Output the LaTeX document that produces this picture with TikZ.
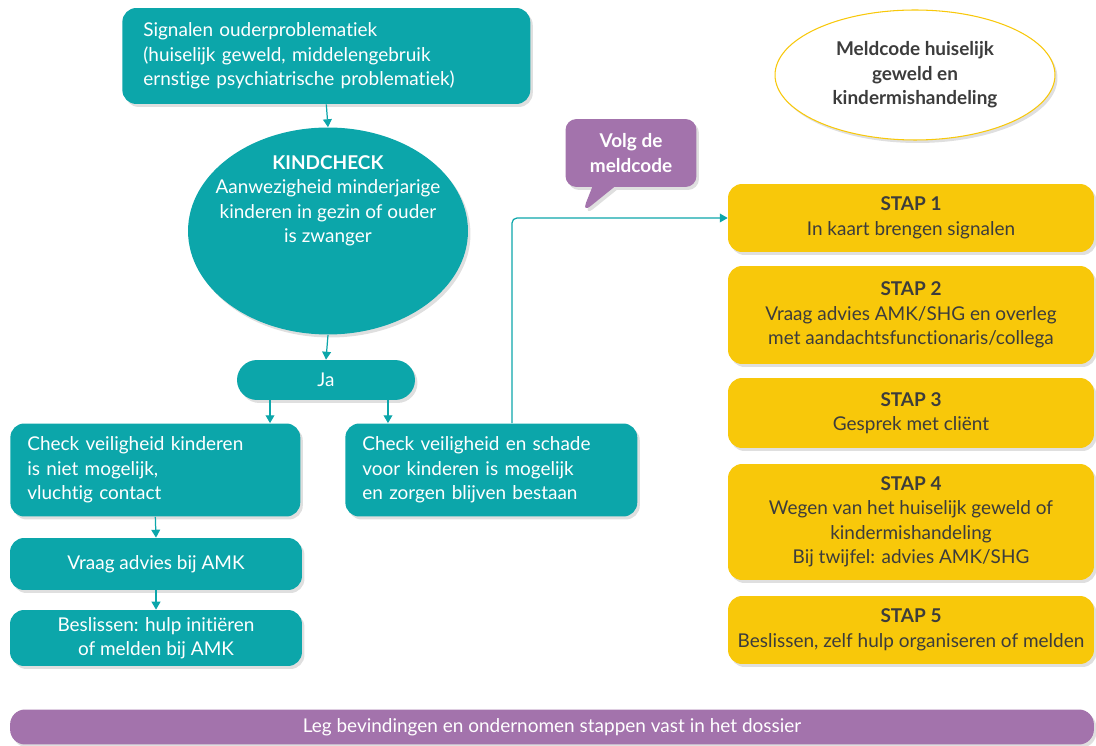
\documentclass[tikz,border=0pt]{standalone}
\usepackage{fontspec}
\setmainfont{Lato}[Ligatures=NoCommon]
\usetikzlibrary{arrows.meta,shapes.geometric,shapes.callouts,shadows}

\definecolor{kteal}{RGB}{12,166,170}
\definecolor{kpurple}{RGB}{163,115,172}
\definecolor{kyellow}{RGB}{248,200,10}
\definecolor{ktext}{RGB}{60,60,60}

\tikzset{
    box/.style={draw=none, rectangle, rounded corners=0.28cm, fill=kteal, text=white, align=center, drop shadow={opacity=0.25, shadow xshift=0.05cm, shadow yshift=-0.06cm}, font=\fontsize{10.8}{13.9}\selectfont},
    stap/.style={box, fill=kyellow, text=ktext, minimum width=7.32cm},
    arr/.style={draw=kteal, line width=0.7pt, -{Triangle[width=5pt,length=4.5pt]}}
}

\begin{document}
\begin{tikzpicture}[x=0.02cm, y=-0.02cm]
    \useasboundingbox (0,0) rectangle (1096,746);

    \draw

    %% linkerkolom
    (122,56)node[box, minimum width=8.16cm, minimum height=1.92cm, inner xsep=0.42cm, text width=7.32cm, align=left, anchor=180](s0){Signalen ouderproblematiek\\(huiselijk geweld, middelengebruik\\ernstige psychiatrische problematiek)}
    (328,231)node[box, ellipse, minimum width=5.6cm, minimum height=4.14cm, inner sep=0pt](k0){}
    (328,201)node[align=center, text=white, font=\fontsize{10.8}{13.9}\selectfont](k1){\textbf{KINDCHECK}\\Aanwezigheid minderjarige\\kinderen in gezin of ouder\\is zwanger}
    (326,380)node[box, minimum width=3.56cm, minimum height=0.8cm, rounded corners=0.4cm](j0){Ja}
    (10,470)node[box, minimum height=1.86cm, inner xsep=0.34cm, text width=5.12cm, align=left, anchor=180](c1){Check veiligheid kinderen\\is niet mogelijk,\\vluchtig contact}
    (345,470)node[box, minimum height=1.86cm, inner xsep=0.34cm, text width=5.16cm, align=left, anchor=180](c2){Check veiligheid en schade\\voor kinderen is mogelijk\\en zorgen blijven bestaan}
    (156,564)node[box, minimum width=5.84cm, minimum height=1.04cm](v1){Vraag advies bij AMK}
    (156,638)node[box, minimum width=5.84cm, minimum height=1.12cm](b1){Beslissen: hulp initiëren\\of melden bij AMK}

    %% meldcode
    (915,75)node[ellipse, draw=kyellow, line width=0.6pt, fill=white, minimum width=5.6cm, minimum height=2.6cm, align=center, text=ktext, drop shadow={opacity=0.25, shadow xshift=0.05cm, shadow yshift=-0.06cm}, font=\bfseries\fontsize{10.8}{13.9}\selectfont](m0){Meldcode huiselijk\\geweld en\\kindermishandeling}
    (631,153)node[rectangle callout, callout absolute pointer={(582,213)}, callout pointer width=0.44cm, fill=kpurple, rounded corners=0.22cm, minimum width=2.62cm, minimum height=1.36cm, align=center, text=white, drop shadow={opacity=0.25, shadow xshift=0.05cm, shadow yshift=-0.06cm}, font=\bfseries\fontsize{10.8}{13.9}\selectfont](v0){Volg de\\meldcode}

    %% stappen
    (911,218)node[stap, minimum height=1.36cm](st1){\textbf{STAP 1}\\In kaart brengen signalen}
    (911,315)node[stap, minimum height=1.96cm](st2){\textbf{STAP 2}\\Vraag advies AMK/SHG en overleg\\met aandachtsfunctionaris/collega}
    (911,413)node[stap, minimum height=1.4cm](st3){\textbf{STAP 3}\\Gesprek met cliënt}
    (911,522)node[stap, minimum height=2.32cm](st4){\textbf{STAP 4}\\Wegen van het huiselijk geweld of\\kindermishandeling\\Bij twijfel: advies AMK/SHG}
    (911,630)node[stap, minimum height=1.36cm](st5){\textbf{STAP 5}\\Beslissen, zelf hulp organiseren of melden}

    %% dossier
    (552,727)node[box, fill=kpurple, minimum width=21.68cm, minimum height=0.7cm, rounded corners=0.3cm](p0){Leg bevindingen en ondernomen stappen vast in het dossier}
    ;

    \coordinate (t0) at (512,218);

    \draw[arr] (s0.south) -- (k0.north);
    \draw[arr] (k0.south) -- (j0.north);
    \draw[arr] ([xshift=-1.12cm]j0.south) -- ([xshift=-1.12cm]j0.south |- c1.north);
    \draw[arr] ([xshift=1.24cm]j0.south) -- ([xshift=1.24cm]j0.south |- c2.north);
    \draw[arr] (c1.south) -- (v1.north);
    \draw[arr] (v1.south) -- (b1.north);
    \draw[arr, rounded corners=0.1cm] (t0 |- c2.north) |- (st1.west);
\end{tikzpicture}
\end{document}
